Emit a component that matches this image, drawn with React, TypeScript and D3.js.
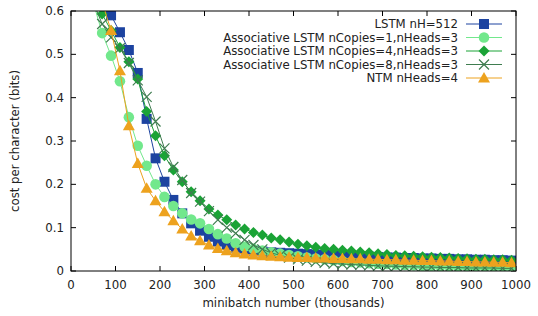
import * as d3 from 'd3';

// minibatch positions (thousands)
const minibatch = [10, 30, 50, 70, 90, 110, 130, 150, 170, 190, 210, 230, 250, 270, 290, 310, 330, 350, 370, 390,
  410, 430, 450, 470, 490, 510, 530, 550, 570, 590, 610, 630, 650, 670, 690, 710, 730, 750, 770, 790,
  810, 830, 850, 870, 890, 910, 930, 950, 970, 990];

const lstm = [2.0, 1.2, 0.8, 0.62, 0.59, 0.551, 0.51, 0.457, 0.351, 0.26, 0.206, 0.164, 0.133, 0.11, 0.093, 0.079, 0.068, 0.06, 0.054, 0.05,
  0.047, 0.045, 0.043, 0.042, 0.041, 0.04, 0.039, 0.038, 0.037, 0.036, 0.035, 0.034, 0.033, 0.033, 0.032, 0.031, 0.031, 0.03, 0.03, 0.029,
  0.029, 0.028, 0.028, 0.027, 0.027, 0.026, 0.026, 0.025, 0.025, 0.024];

const assoc1 = [1.5, 0.9, 0.62, 0.549, 0.497, 0.438, 0.355, 0.289, 0.243, 0.2, 0.171, 0.15, 0.133, 0.119, 0.11, 0.097, 0.085, 0.075, 0.064, 0.056,
  0.051, 0.047, 0.043, 0.04, 0.037, 0.034, 0.031, 0.029, 0.027, 0.025, 0.023, 0.021, 0.02, 0.018, 0.017, 0.016, 0.015, 0.014, 0.013, 0.012,
  0.012, 0.011, 0.011, 0.01, 0.01, 0.01, 0.009, 0.009, 0.008, 0.008];

const assoc4 = [1.5, 0.9, 0.65, 0.593, 0.555, 0.516, 0.483, 0.443, 0.368, 0.312, 0.266, 0.233, 0.206, 0.183, 0.162, 0.143, 0.129, 0.118, 0.106, 0.097,
  0.089, 0.083, 0.076, 0.072, 0.067, 0.062, 0.058, 0.055, 0.052, 0.05, 0.048, 0.046, 0.044, 0.042, 0.04, 0.038, 0.036, 0.035, 0.034, 0.033,
  0.032, 0.031, 0.03, 0.029, 0.028, 0.027, 0.027, 0.026, 0.026, 0.025];

const assoc8 = [1.5, 0.9, 0.62, 0.57, 0.539, 0.514, 0.48, 0.44, 0.402, 0.345, 0.283, 0.24, 0.21, 0.18, 0.16, 0.138, 0.118, 0.1, 0.087, 0.072,
  0.06, 0.05, 0.042, 0.036, 0.031, 0.027, 0.024, 0.021, 0.019, 0.017, 0.016, 0.015, 0.014, 0.013, 0.012, 0.011, 0.011, 0.01, 0.01, 0.009,
  0.009, 0.008, 0.008, 0.008, 0.007, 0.007, 0.007, 0.007, 0.006, 0.006];

const ntm = [1.5, 0.9, 0.75, 0.62, 0.555, 0.462, 0.335, 0.248, 0.191, 0.162, 0.137, 0.116, 0.097, 0.081, 0.07, 0.06, 0.052, 0.047, 0.042, 0.039,
  0.037, 0.035, 0.034, 0.033, 0.032, 0.031, 0.031, 0.03, 0.03, 0.029, 0.029, 0.028, 0.028, 0.027, 0.027, 0.026, 0.026, 0.025, 0.025, 0.024,
  0.024, 0.023, 0.023, 0.022, 0.022, 0.021, 0.021, 0.02, 0.02, 0.019];

const seriesNames = [
  'LSTM nH=512',
  'Associative LSTM nCopies=1,nHeads=3',
  'Associative LSTM nCopies=4,nHeads=3',
  'Associative LSTM nCopies=8,nHeads=3',
  'NTM nHeads=4',
];
const seriesValues = [lstm, assoc1, assoc4, assoc8, ntm];
const seriesColors = ['#1c43a0', '#72e88c', '#1aa336', '#3f7d50', '#eda21e'];
const seriesMarkers = ['square', 'circle', 'diamond', 'cross', 'triangle'];

const xTicks = [0, 100, 200, 300, 400, 500, 600, 700, 800, 900, 1000];
const yTicks = [0, 0.1, 0.2, 0.3, 0.4, 0.5, 0.6];

const W = 538;
const H = 316;
const m = { left: 71, right: 516, top: 11, bottom: 271 };
const FONT = 'DejaVu Sans, sans-serif';
const FS = 11.75;
const TXT = '#222';

function Marker({ type, x, y, color }: { type: string; x: number; y: number; color: string }) {
  if (type === 'square') return <rect x={x - 5} y={y - 5} width={10} height={10} fill={color} />;
  if (type === 'circle') return <circle cx={x} cy={y} r={5.3} fill={color} />;
  if (type === 'diamond')
    return <path d={`M${x},${y - 5.5}L${x + 5.5},${y}L${x},${y + 5.5}L${x - 5.5},${y}Z`} fill={color} />;
  if (type === 'triangle')
    return <path d={`M${x},${y - 6}L${x + 6},${y + 4.5}L${x - 6},${y + 4.5}Z`} fill={color} />;
  return (
    <path d={`M${x - 5},${y - 5}L${x + 5},${y + 5}M${x - 5},${y + 5}L${x + 5},${y - 5}`} stroke={color} strokeWidth={1.2} fill="none" />
  );
}

export default function App() {
  const x = d3.scaleLinear().domain([0, 1000]).range([m.left, m.right]);
  const y = d3.scaleLinear().domain([0, 0.6]).range([m.bottom, m.top]);
  const line = d3.line<number>().x((_, i) => x(minibatch[i])).y((d) => y(d));

  const legendTextX = 458;
  const legendY = (i: number) => 24 + i * 13.5;

  return (
    <svg width={W} height={H} style={{ position: 'absolute', left: 0, top: 0, background: '#fff' }}>
      <defs>
        <clipPath id="plot">
          <rect x={m.left} y={m.top} width={m.right - m.left} height={m.bottom - m.top} />
        </clipPath>
      </defs>

      {/* ticks, inward and mirrored */}
      {xTicks.map((t) => (
        <g key={'x' + t}>
          <line x1={x(t)} x2={x(t)} y1={m.bottom} y2={m.bottom - 5} stroke="#000" />
          <line x1={x(t)} x2={x(t)} y1={m.top} y2={m.top + 5} stroke="#000" />
          <text x={x(t)} y={m.bottom + 18} textAnchor="middle" fontFamily={FONT} fontSize={FS} fill={TXT}>
            {t}
          </text>
        </g>
      ))}
      {yTicks.map((t) => (
        <g key={'y' + t}>
          <line x1={m.left} x2={m.left + 5} y1={y(t)} y2={y(t)} stroke="#000" />
          <line x1={m.right} x2={m.right - 5} y1={y(t)} y2={y(t)} stroke="#000" />
          <text x={m.left - 7} y={y(t) + 4} textAnchor="end" fontFamily={FONT} fontSize={FS} fill={TXT}>
            {t}
          </text>
        </g>
      ))}

      <g clipPath="url(#plot)">
        {seriesValues.map((vals, si) => (
          <g key={si}>
            <path d={line(vals) || ''} fill="none" stroke={seriesColors[si]} strokeWidth={1} />
            {vals.map((v, i) => (
              <Marker key={i} type={seriesMarkers[si]} x={x(minibatch[i])} y={y(v)} color={seriesColors[si]} />
            ))}
          </g>
        ))}
      </g>

      <rect x={m.left} y={m.top} width={m.right - m.left} height={m.bottom - m.top} fill="none" stroke="#000" strokeWidth={1} />

      {/* legend */}
      {seriesNames.map((name, i) => (
        <g key={name}>
          <text x={legendTextX} y={legendY(i) + 4} textAnchor="end" fontFamily={FONT} fontSize={FS} fill={TXT}>
            {name}
          </text>
          <line x1={466} x2={502} y1={legendY(i)} y2={legendY(i)} stroke={seriesColors[i]} strokeWidth={1} />
          <Marker type={seriesMarkers[i]} x={484} y={legendY(i)} color={seriesColors[i]} />
        </g>
      ))}

      <text x={(m.left + m.right) / 2} y={307} textAnchor="middle" fontFamily={FONT} fontSize={FS} fill={TXT}>
        minibatch number (thousands)
      </text>
      <text
        transform={`translate(19,${(m.top + m.bottom) / 2}) rotate(-90)`}
        textAnchor="middle"
        fontFamily={FONT}
        fontSize={FS}
        fill={TXT}
      >
        cost per character (bits)
      </text>
    </svg>
  );
}
